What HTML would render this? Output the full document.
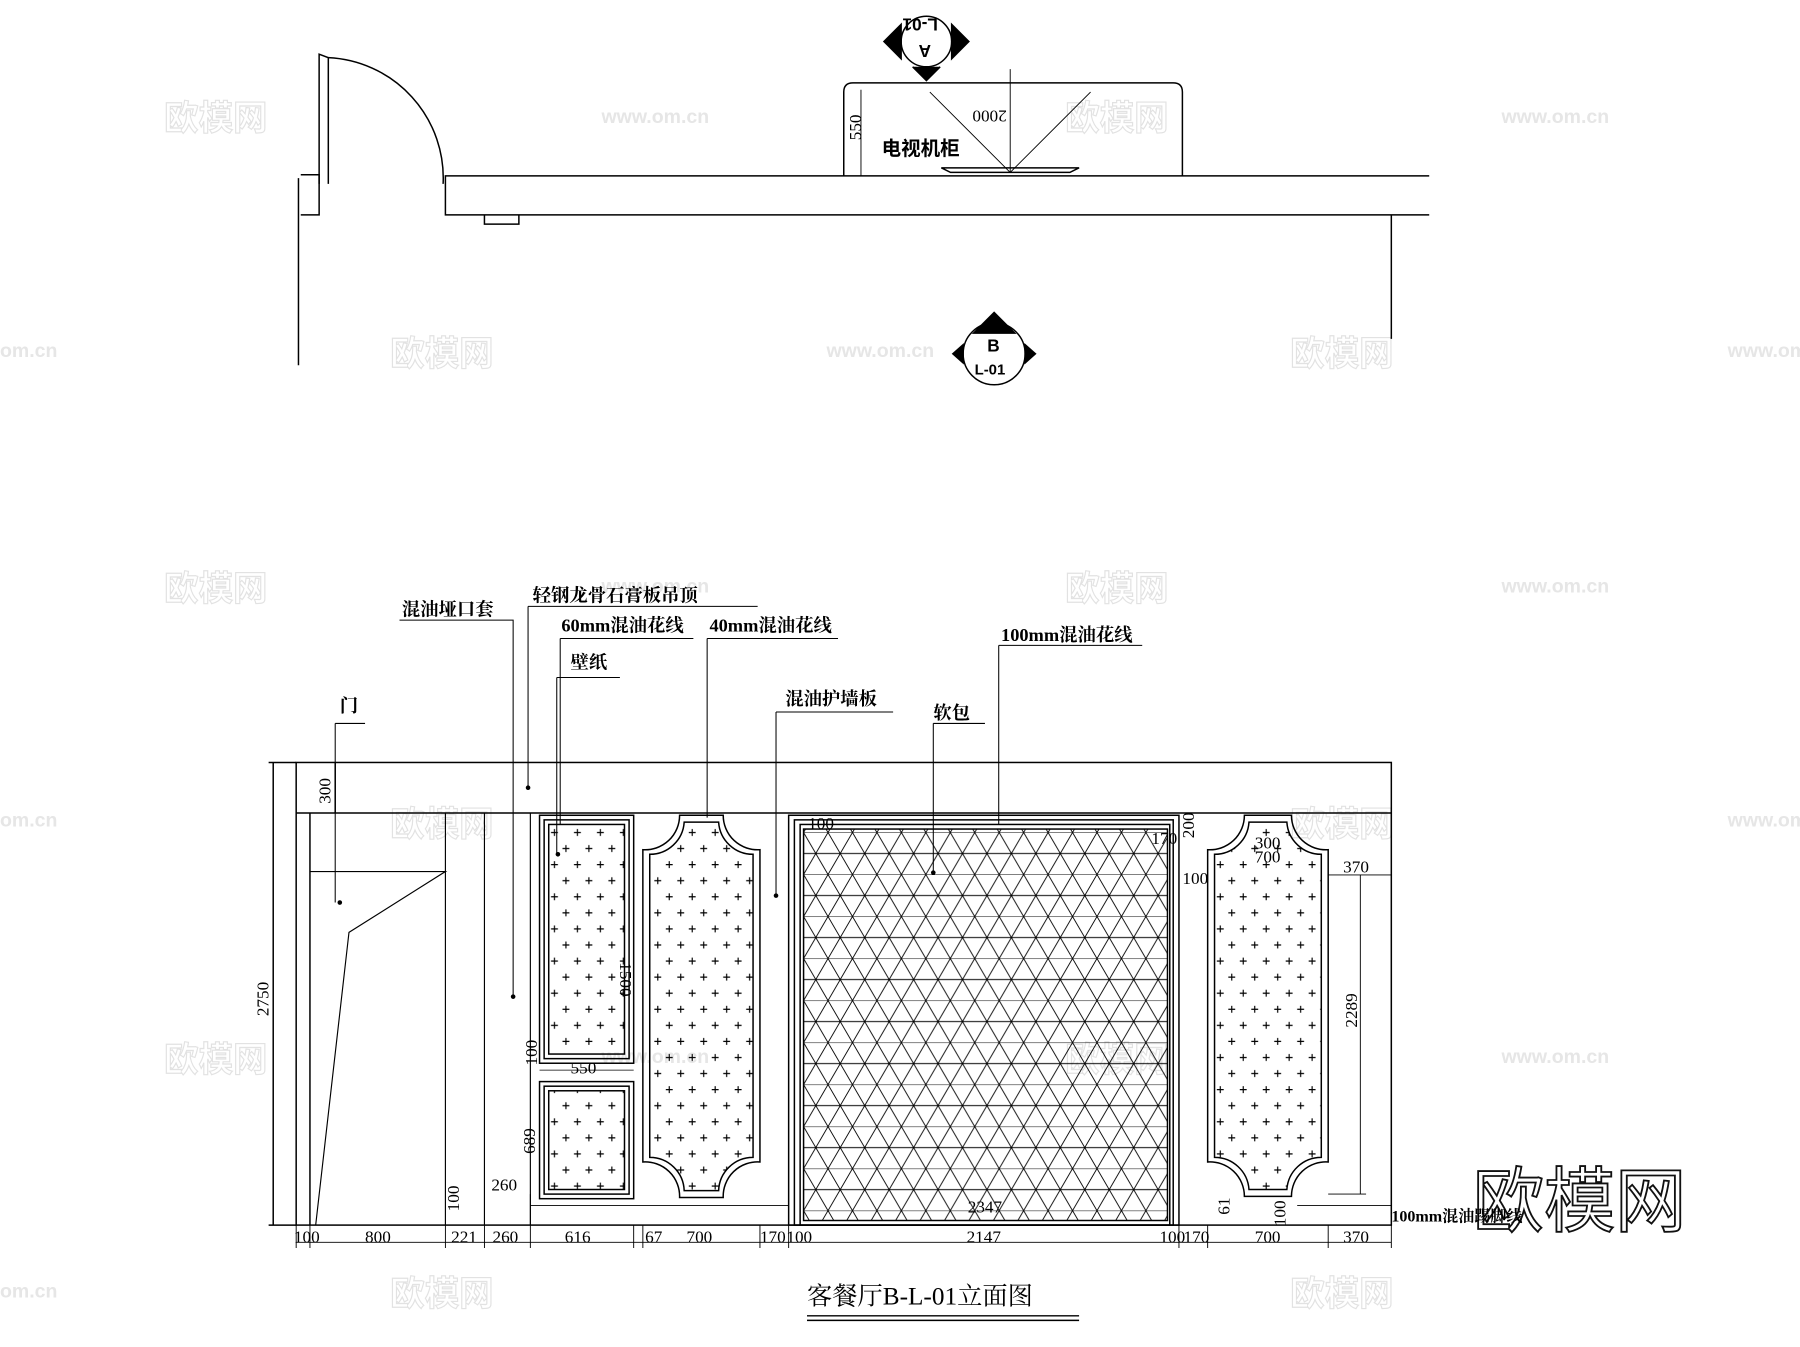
<!DOCTYPE html>
<html><head><meta charset="utf-8"><style>
html,body{margin:0;padding:0;background:#fff;width:1800px;height:1347px;overflow:hidden}
svg{display:block}
text{font-family:"Liberation Serif","Noto Serif CJK SC",serif;fill:#000}
.c{font-family:"Liberation Sans","Noto Sans CJK SC",sans-serif;font-weight:bold}
text.w{fill:none;stroke:#e2e2e2;stroke-width:1;font-family:"Liberation Sans","Noto Sans CJK SC",sans-serif;font-weight:bold}
text.ws{fill:#e6e6e6;font-family:"Liberation Sans",sans-serif;font-weight:bold}
text.big{fill:#fff;stroke:#111;stroke-width:1.6;font-family:"Liberation Sans","Noto Sans CJK SC",sans-serif}
</style></head><body>
<svg width="1800" height="1347" viewBox="0 0 1568 1173" xmlns="http://www.w3.org/2000/svg">
<defs>
<pattern id="dots" x="478" y="718" width="20" height="28" patternUnits="userSpaceOnUse">
<path d="M5 4v6M2 7h6M15 18v6M12 21h6" stroke="#000" stroke-width="1"/>
</pattern>
<pattern id="dia" x="700" y="725" width="21.3" height="36.6" patternUnits="userSpaceOnUse">
<path d="M0 0L10.65 18.3L21.3 0M0 36.6L10.65 18.3L21.3 36.6M0 18.3H21.3M0 0H21.3" stroke="#000" stroke-width="0.8" fill="none"/>
</pattern>
</defs>
<g font-size="30">
<text class="w" x="143" y="113">欧模网</text><text class="w" x="928" y="113">欧模网</text>
<text class="w" x="340" y="318">欧模网</text><text class="w" x="1124" y="318">欧模网</text>
<text class="w" x="143" y="523">欧模网</text><text class="w" x="928" y="523">欧模网</text>
<text class="w" x="340" y="728">欧模网</text><text class="w" x="1124" y="728">欧模网</text>
<text class="w" x="143" y="933">欧模网</text><text class="w" x="928" y="933">欧模网</text>
<text class="w" x="340" y="1137">欧模网</text><text class="w" x="1124" y="1137">欧模网</text>
</g>
<g font-size="17">
<text class="ws" x="524" y="107">www.om.cn</text><text class="ws" x="1308" y="107">www.om.cn</text>
<text class="ws" x="0" y="311">om.cn</text><text class="ws" x="720" y="311">www.om.cn</text><text class="ws" x="1505" y="311">www.om.cn</text>
<text class="ws" x="524" y="516">www.om.cn</text><text class="ws" x="1308" y="516">www.om.cn</text>
<text class="ws" x="0" y="720">om.cn</text><text class="ws" x="1505" y="720">www.om.cn</text>
<text class="ws" x="524" y="926">www.om.cn</text><text class="ws" x="1308" y="926">www.om.cn</text>
<text class="ws" x="0" y="1130">om.cn</text>
</g>

<g fill="none" stroke="#000" stroke-width="1.3">
<path d="M260 155V318"/>
<path d="M262 152h16v35h-16"/>
<path d="M278 160V47l8 3V160"/>
<path d="M286 50A105 105 0 0 1 386 160"/>
<path d="M1245 153H388V187H1245"/>
<path d="M422 187v8h30v-8"/>
<path d="M1212 187V295"/>
<path d="M735 153V80q0-8 8-8H1022q8 0 8 8V153"/>
<path d="M750 78v75" stroke-width="0.8"/>
<path d="M880 60V150M880 150L810 80M880 150L950 80" stroke-width="0.8"/>
<path d="M820 146h120l-8 4h-104z"/>
<circle cx="807" cy="36" r="22"/>
<path d="M770 36L785 21V51zM844 36L829 21V51z" fill="#000"/>
<path d="M795 58L807 70L819 58" fill="#000"/>
<circle cx="866" cy="308" r="27"/>
<path d="M848 290L866 272L884 290z" fill="#000"/>
<path d="M830 308L839 300V316zM902 308L893 300V316z" fill="#000"/>
<rect x="258" y="664" width="954" height="403"/>
<path d="M258 708H1212M270 708V1067"/>
<path d="M270 759H388L304 812L275 1067M388 708V1067M422 708V1067M462 708V1067" stroke-width="1"/>
<path d="M234 664H258M234 1067H258M238 664V1067"/>
<path d="M292 664V708"/>
<path d="M258 1082H1212M258 1067v20M270 1067v20M388 1067v20M422 1067v20M462 1067v20M552 1067v20M560 1067v20M662 1067v20M687 1067v20M1027 1067v20M1052 1067v20M1157 1067v20M1212 1067v20" stroke-width="0.8"/>
<path d="M462 1050H687M462 1040V1067" stroke-width="0.8"/>
<rect x="470" y="710" width="82" height="216"/><rect x="474" y="714" width="74" height="208"/><rect x="478" y="718" width="66" height="200" fill="url(#dots)"/>
<rect x="470" y="942" width="82" height="102"/><rect x="474" y="946" width="74" height="94"/><rect x="478" y="950" width="66" height="86" fill="url(#dots)"/>
<path d="M470 932H552" stroke-width="0.7"/>
<path d="M592 710H630A30 30 0 0 0 662 740V1012A30 30 0 0 0 630 1043H592A30 30 0 0 0 560 1012V740A30 30 0 0 0 592 710Z"/>
<path d="M596 716H626A30 30 0 0 0 656 744V1008A30 30 0 0 0 626 1037H596A30 30 0 0 0 566 1008V744A30 30 0 0 0 596 716Z" fill="url(#dots)"/>
<rect x="687" y="710" width="340" height="357"/><rect x="692" y="714" width="330" height="353"/><rect x="697" y="718" width="322" height="349"/>
<rect x="700" y="722" width="317" height="341" fill="url(#dia)"/>
<path d="M1084 710H1125A30 30 0 0 0 1157 740V1012A30 30 0 0 0 1125 1042H1084A30 30 0 0 0 1052 1012V740A30 30 0 0 0 1084 710Z"/>
<path d="M1088 716H1121A30 30 0 0 0 1151 744V1008A30 30 0 0 0 1121 1036H1088A30 30 0 0 0 1058 1008V744A30 30 0 0 0 1088 716Z" fill="url(#dots)"/>
<path d="M1157 762H1212M1185 762V1040M1157 1040H1190M1130 1050H1212M1212 708V1060" stroke-width="0.8"/>
<path d="M292 630H318M292 630V786" stroke-width="0.9"/>
<path d="M348 540H447V868" stroke-width="0.9"/>
<path d="M460 528H660M460 528V686" stroke-width="0.9"/>
<path d="M488 556H604M488 556V718" stroke-width="0.9"/>
<path d="M485 590H540M485 590V744" stroke-width="0.9"/>
<path d="M616 556H730M616 556V712" stroke-width="0.9"/>
<path d="M676 620H778M676 620V780" stroke-width="0.9"/>
<path d="M813 630H858M813 630V760" stroke-width="0.9"/>
<path d="M870 562H995M870 562V718" stroke-width="0.9"/>
</g>
<g fill="#000"><circle cx="296" cy="786" r="2"/><circle cx="447" cy="868" r="2"/><circle cx="460" cy="686" r="2"/><circle cx="486" cy="744" r="2"/><circle cx="676" cy="780" r="2"/><circle cx="813" cy="760" r="2"/></g>
<text x="1283" y="1068" font-size="62" class="big">欧模网</text>
<g font-size="15">
<text x="768" y="135" class="c" font-size="17">电视机柜</text>
<text x="843" y="108" transform="rotate(180 860 102)">2000</text>
<text x="0" y="0" transform="translate(750 122) rotate(-90)">550</text>
<text x="797" y="24" transform="rotate(180 807 20)" class="c">L-01</text>
<text x="799" y="53" class="c" transform="rotate(180 805 46)">A</text>
<text x="860" y="306" class="c">B</text>
<text x="849" y="326" class="c" font-size="13">L-01</text>
<g class="c" font-size="16">
<text x="296" y="620">门</text><text x="350" y="536">混油垭口套</text><text x="464" y="524">轻钢龙骨石膏板吊顶</text>
<text x="489" y="550">60mm混油花线</text><text x="618" y="550">40mm混油花线</text><text x="497" y="582">壁纸</text>
<text x="684" y="614">混油护墙板</text><text x="813" y="626">软包</text><text x="872" y="558">100mm混油花线</text>
<text x="1212" y="1064" font-size="14">100mm混油踢脚线</text>
</g>
<text transform="translate(234 885) rotate(-90)">2750</text>
<text transform="translate(288 700) rotate(-90)">300</text>
<text transform="translate(540 838) rotate(90)">1500</text>
<text transform="translate(468 928) rotate(-90)">100</text>
<text transform="translate(466 1005) rotate(-90)">689</text>
<text transform="translate(400 1055) rotate(-90)">100</text>
<text transform="translate(1182 895) rotate(-90)">2289</text>
<text transform="translate(1071 1058) rotate(-90)">61</text>
<text transform="translate(1120 1068) rotate(-90)">100</text>
<text x="497" y="935">550</text><text x="428" y="1037">260</text>
<text x="704" y="722">100</text><text x="1003" y="735">170</text><text x="1033" y="723" transform="rotate(-90 1040 723)">200</text>
<text x="1030" y="770">100</text><text x="1093" y="739">300</text><text x="1093" y="751">700</text><text x="1170" y="760">370</text>
<text x="843" y="1056">2347</text>
<text x="256" y="1082">100</text><text x="318" y="1082">800</text><text x="393" y="1082">221</text><text x="429" y="1082">260</text>
<text x="492" y="1082">616</text><text x="562" y="1082">67</text><text x="598" y="1082">700</text><text x="662" y="1082">170</text>
<text x="685" y="1082">100</text><text x="842" y="1082">2147</text><text x="1010" y="1082">100</text><text x="1031" y="1082">170</text>
<text x="1093" y="1082">700</text><text x="1170" y="1082">370</text>
<text x="703" y="1136" font-size="22">客餐厅B-L-01立面图</text>
</g>
<path d="M703 1146H940M703 1150H940" stroke="#000" stroke-width="1.2"/>
</svg>
</body></html>
